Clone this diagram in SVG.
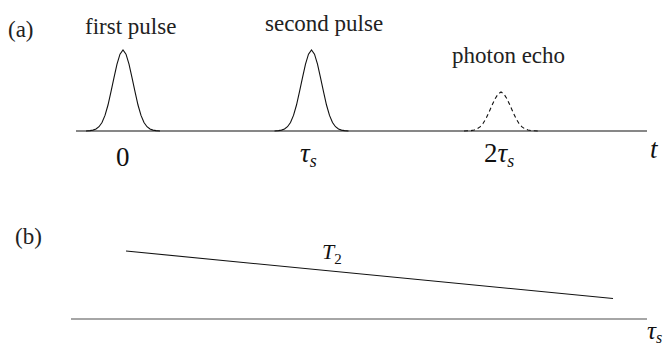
<svg xmlns="http://www.w3.org/2000/svg" width="665" height="347" viewBox="0 0 665 347">
<style>
text{font-family:"Liberation Serif",Tinos,"Times New Roman","DejaVu Serif",serif}
.lbl{font-size:23px;fill:#222}
.math{font-size:27px;fill:#111}
.it{font-style:italic}
.sub{font-size:18px;font-style:italic}
.curve{fill:none;stroke:#111;stroke-width:1.1}
.dash{fill:none;stroke:#111;stroke-width:1.1;stroke-dasharray:4 3}
.axis{stroke:#111;stroke-width:1.2}
.axisb{stroke:#888;stroke-width:1.6}
</style>
<defs>
<path id="gauss" d="M-37,0 L-33,-0.4 L-30,-0.9 L-27,-2 L-24,-4.3 L-21,-8.5 L-18,-15.6 L-15,-26 L-12,-39.3 L-9,-53.4 L-6,-66.9 L-3,-76.8 L0,-81 L3,-76.8 L6,-66.9 L9,-53.4 L12,-39.3 L15,-26 L18,-15.6 L21,-8.5 L24,-4.3 L27,-2 L30,-0.9 L33,-0.4 L37,0"/>
</defs>
<g id="panel-a-label"><text class="lbl" x="8" y="37">(a)</text></g>
<g id="first-pulse">
<text class="lbl" x="85" y="34">first pulse</text>
<use href="#gauss" x="123" y="131" class="curve"/>
<text class="math" x="116" y="166">0</text>
</g>
<g id="second-pulse">
<text class="lbl" x="265" y="31">second pulse</text>
<use href="#gauss" x="311.5" y="131" class="curve"/>
<text class="math it" x="300" y="162">τ<tspan class="sub" dy="5">s</tspan></text>
</g>
<g id="photon-echo">
<text class="lbl" x="452" y="63">photon echo</text>
<path class="dash" d="M464,131 L468,130.8 L471,130.6 L474,130 L477,128.9 L480,126.9 L483,123.5 L486,118.5 L489,112.2 L492,105.3 L495,98.9 L498,94.1 L501,92 L504,94.1 L507,98.9 L510,105.3 L513,112.2 L516,118.5 L519,123.5 L522,126.9 L525,128.9 L528,130 L531,130.6 L534,130.8 L538,131"/>
<text class="math" x="484" y="162">2<tspan class="it">τ</tspan><tspan class="sub" dy="5">s</tspan></text>
</g>
<g id="axis-t">
<text class="math it" x="650" y="158">t</text>
</g>
<g id="panel-b-label"><text class="lbl" x="15" y="244">(b)</text></g>
<g id="T2-label"><text class="math it" x="322" y="259" style="font-size:22px">T<tspan dy="5" style="font-style:normal;font-size:15px">2</tspan></text></g>
<g id="axis-tau"><text class="math it" x="647" y="339" style="font-size:25px">τ<tspan class="sub" dy="4" style="font-size:16px">s</tspan></text></g>
<g id="connectors">
<line class="axis" x1="76" y1="131" x2="647" y2="131"/>
<line class="curve" x1="126" y1="251" x2="613" y2="298.5"/>
<line class="axisb" x1="71" y1="319" x2="647" y2="319"/>
</g>
</svg>
